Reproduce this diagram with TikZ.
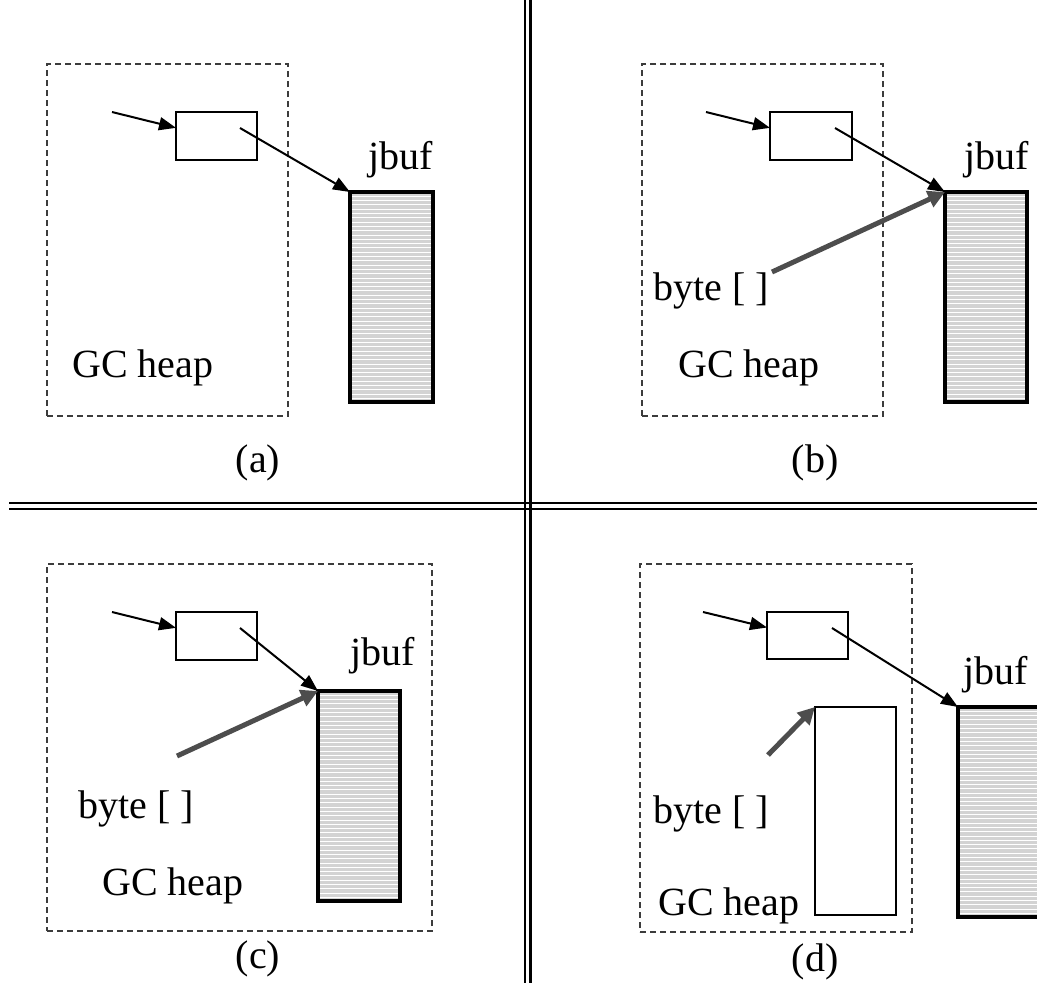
\documentclass[tikz,border=0pt]{standalone}
\usepackage{fontspec}
\setmainfont{Liberation Serif}
\usetikzlibrary{arrows.meta,calc}
\definecolor{bufgray}{HTML}{D3D3D3}
\definecolor{refgray}{HTML}{4D4D4D}
\definecolor{dashgray}{HTML}{3C3C3C}
\tikzset{
  heap/.style={rectangle,draw=dashgray,line width=1.3pt,dash pattern=on 6pt off 4pt,
    inner sep=0pt,outer sep=0pt,anchor=north west},
  obj/.style={rectangle,draw,line width=2pt,inner sep=0pt,outer sep=0pt,
    minimum width=81pt,minimum height=48pt,anchor=north west},
  buf/.style={rectangle,draw,line width=4.5pt,fill=bufgray,inner sep=0pt,outer sep=0pt,
    minimum width=82pt,minimum height=210pt,anchor=north west,
    path picture={\foreach \k in {1,...,52}
      \draw[white,line width=0.9pt] ([yshift=-\k*4.3pt]path picture bounding box.north west) -- ++(120pt,0);}},
  txt/.style={inner sep=0pt,font=\fontsize{40}{48}\selectfont},
  ptr/.style={-{Triangle[length=17pt,width=13pt]},line width=2pt},
  bref/.style={-{Triangle[length=17pt,width=17pt]},draw=refgray,line width=5pt},
  rule/.style={line width=2.5pt},
}
\begin{document}
\begin{tikzpicture}[x=1pt,y=-1pt]
  \clip (0,0) rectangle (1037,983);
  \fill[white] (0,0) rectangle (1037,983);
  % dividers
  \draw[rule] (525,0) -- (525,983); \draw[rule] (530.5,0) -- (530.5,983);
  \draw[rule] (9,503) -- (1037,503); \draw[rule] (9,509) -- (1037,509);

  % (a)
  \node[heap,minimum width=241pt,minimum height=352pt] (a-heap) at (47,64) {};
  \node[obj] (a-obj) at (176,112) {};
  \node[buf,minimum width=83pt] (a-buf) at (350,192) {};
  \coordinate (a-in) at (112,112);
  \coordinate (a-src) at (240,128);
  \draw[ptr] (a-in) -- ($(a-obj.north west)!.33!(a-obj.south west)$);
  \draw[ptr] (a-src) -- (a-buf.north west);
  \node[txt,anchor=base west] (a-jbuf) at (368,169) {jbuf};
  \node[txt,anchor=base west] (a-gc) at (72,377) {GC heap};
  \node[txt,anchor=base] (a-cap) at (258,472) {(a)};

  % (b)
  \node[heap,minimum width=241pt,minimum height=352pt] (b-heap) at (642,64) {};
  \node[obj,minimum width=82pt] (b-obj) at (770,112) {};
  \node[buf] (b-buf) at (945,192) {};
  \coordinate (b-in) at (706,112);
  \coordinate (b-src) at (835,128);
  \coordinate (b-ref) at (772,272);
  \draw[ptr] (b-in) -- ($(b-obj.north west)!.33!(b-obj.south west)$);
  \draw[ptr] (b-src) -- (b-buf.north west);
  \draw[bref] (b-ref) -- (b-buf.north west);
  \node[txt,anchor=base west] (b-jbuf) at (964,169) {jbuf};
  \node[txt,anchor=base west] (b-byte) at (653,300) {byte [ ]};
  \node[txt,anchor=base west] (b-gc) at (678,377) {GC heap};
  \node[txt,anchor=base] (b-cap) at (815,472) {(b)};

  % (c)
  \node[heap,minimum width=385pt,minimum height=367pt] (c-heap) at (47,564) {};
  \node[obj] (c-obj) at (176,612) {};
  \node[buf] (c-buf) at (318,691) {};
  \coordinate (c-in) at (112,612);
  \coordinate (c-src) at (240,628);
  \coordinate (c-ref) at (177,756);
  \draw[ptr] (c-in) -- ($(c-obj.north west)!.33!(c-obj.south west)$);
  \draw[ptr] (c-src) -- (c-buf.north west);
  \draw[bref] (c-ref) -- (c-buf.north west);
  \node[txt,anchor=base west] (c-jbuf) at (350,665) {jbuf};
  \node[txt,anchor=base west] (c-byte) at (78,818) {byte [ ]};
  \node[txt,anchor=base west] (c-gc) at (102,895) {GC heap};
  \node[txt,anchor=base] (c-cap) at (258,968) {(c)};

  % (d)
  \node[heap,minimum width=272pt,minimum height=368pt] (d-heap) at (640,564) {};
  \node[obj,minimum height=47pt] (d-obj) at (767,612) {};
  \node[buf] (d-buf) at (958,707) {};
  \node[obj,minimum height=208pt] (d-new) at (815,707) {};
  \coordinate (d-in) at (703,612);
  \coordinate (d-src) at (832,628);
  \coordinate (d-ref) at (768,755);
  \draw[ptr] (d-in) -- ($(d-obj.north west)!.33!(d-obj.south west)$);
  \draw[ptr] (d-src) -- (d-buf.north west);
  \draw[bref] (d-ref) -- (d-new.north west);
  \node[txt,anchor=base west] (d-jbuf) at (963,684) {jbuf};
  \node[txt,anchor=base west] (d-byte) at (653,823) {byte [ ]};
  \node[txt,anchor=base west] (d-gc) at (658,915) {GC heap};
  \node[txt,anchor=base] (d-cap) at (815,971) {(d)};
\end{tikzpicture}
\end{document}
